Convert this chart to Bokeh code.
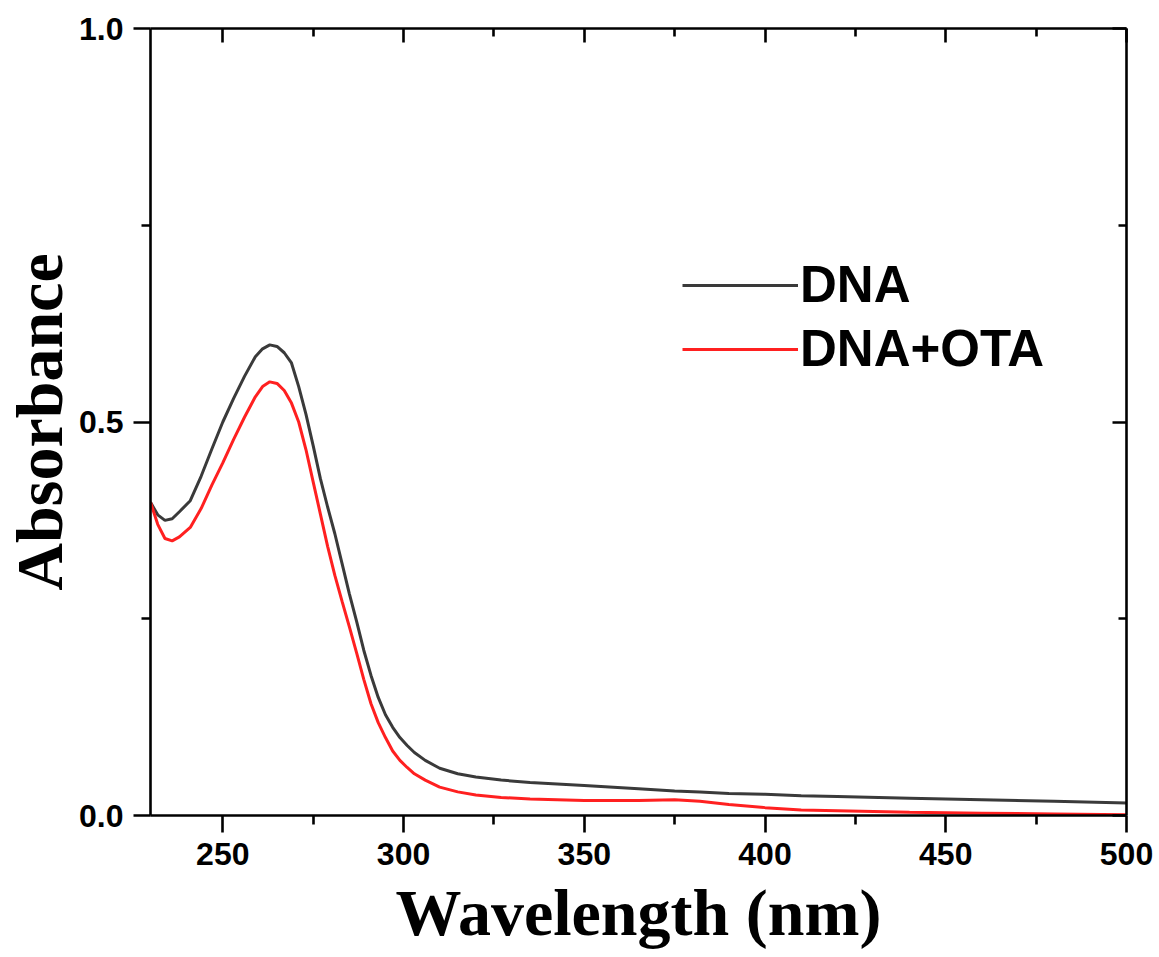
from bokeh.plotting import figure
from bokeh.models import (LinearAxis, Legend, LegendItem, FixedTicker, CustomJSTickFormatter,
                          Range1d, PrintfTickFormatter)
from bokeh.embed import file_html
from bokeh.resources import INLINE

wavelength = [230, 232, 234, 236, 238, 241, 244, 247, 250, 253, 256, 259, 261, 263, 265, 267,
              269, 271, 273, 275, 277, 279, 281, 283, 285, 287, 289, 291, 293, 295, 297, 299,
              301, 303, 306, 310, 315, 320, 327, 335, 350, 365, 375, 382, 390, 400, 410, 420,
              440, 460, 480, 500]
dna = [0.398, 0.382, 0.375, 0.377, 0.386, 0.400, 0.431, 0.466, 0.500, 0.530, 0.558, 0.583,
       0.593, 0.598, 0.596, 0.588, 0.575, 0.545, 0.510, 0.470, 0.428, 0.392, 0.358, 0.320,
       0.282, 0.247, 0.210, 0.178, 0.150, 0.128, 0.112, 0.099, 0.089, 0.080, 0.070, 0.060,
       0.053, 0.049, 0.045, 0.042, 0.038, 0.034, 0.031, 0.030, 0.028, 0.027, 0.025, 0.024,
       0.022, 0.020, 0.018, 0.016]
dna_ota = [0.398, 0.370, 0.352, 0.349, 0.354, 0.366, 0.390, 0.420, 0.448, 0.478, 0.506, 0.532,
           0.545, 0.551, 0.549, 0.540, 0.524, 0.500, 0.465, 0.424, 0.383, 0.342, 0.305, 0.272,
           0.240, 0.207, 0.173, 0.142, 0.118, 0.099, 0.082, 0.070, 0.061, 0.053, 0.045, 0.036,
           0.030, 0.026, 0.023, 0.021, 0.019, 0.019, 0.020, 0.018, 0.014, 0.010, 0.007, 0.006,
           0.004, 0.003, 0.002, 0.001]

x_ticks = [250, 300, 350, 400, 450, 500]
x_minor = [275, 325, 375, 425, 475]
y_ticks = [0.0, 0.5, 1.0]
y_minor = [0.25, 0.75]
series_labels = ["DNA", "DNA+OTA"]

p = figure(width=1159, height=957, output_backend="svg", toolbar_location=None,
           x_range=Range1d(230, 500), y_range=Range1d(0, 1.0),
           min_border_left=150, min_border_right=33, min_border_top=28, min_border_bottom=142,
           x_axis_location=None, y_axis_location=None)
p.outline_line_color = None
p.xgrid.visible = False
p.ygrid.visible = False
p.background_fill_color = "white"
p.border_fill_color = "white"

lw = 2.6

def style(ax, inward=False):
    ax.axis_line_width = lw
    ax.major_tick_line_width = lw
    ax.minor_tick_line_width = lw
    ax.axis_line_color = "black"
    ax.major_tick_line_color = "black"
    ax.minor_tick_line_color = "black"
    if inward:
        ax.major_tick_in = 14
        ax.major_tick_out = 0
        ax.minor_tick_in = 8
        ax.minor_tick_out = 0
        ax.formatter = CustomJSTickFormatter(code="return ''")
    else:
        ax.major_tick_in = 0
        ax.major_tick_out = 17
        ax.minor_tick_in = 0
        ax.minor_tick_out = 9
        ax.major_label_text_font = "Liberation Sans"
        ax.major_label_text_font_style = "bold"
        ax.major_label_text_font_size = "32px"
        ax.major_label_text_color = "black"
        ax.axis_label_text_font = "Liberation Serif"
        ax.axis_label_text_font_style = "bold"
        ax.axis_label_text_font_size = "66px"
        ax.axis_label_text_color = "black"

xb = LinearAxis(ticker=FixedTicker(ticks=x_ticks, minor_ticks=x_minor), axis_label="Wavelength (nm)")
style(xb)
xb.major_label_standoff = 10
xb.axis_label_standoff = 8
yl = LinearAxis(ticker=FixedTicker(ticks=y_ticks, minor_ticks=y_minor), axis_label="Absorbance",
                formatter=PrintfTickFormatter(format="%.1f"))
style(yl)
yl.major_label_standoff = 10
yl.axis_label_standoff = 0
xa = LinearAxis(ticker=FixedTicker(ticks=x_ticks, minor_ticks=x_minor))
style(xa, True)
yr = LinearAxis(ticker=FixedTicker(ticks=y_ticks, minor_ticks=y_minor))
style(yr, True)
p.add_layout(xb, "below")
p.add_layout(yl, "left")
p.add_layout(xa, "above")
p.add_layout(yr, "right")

r1 = p.line(wavelength, dna, line_color="#3a3a3a", line_width=3)
r2 = p.line(wavelength, dna_ota, line_color="#ff2020", line_width=3)

legend = Legend(items=[LegendItem(label=series_labels[0], renderers=[r1]),
                       LegendItem(label=series_labels[1], renderers=[r2])],
                location=(532, 437), glyph_width=116, glyph_height=50, label_height=50,
                label_standoff=2, spacing=5, padding=0, margin=0,
                label_text_font="Liberation Sans", label_text_font_style="bold",
                label_text_font_size="51px", label_text_color="black",
                border_line_alpha=0, background_fill_alpha=0)
p.add_layout(legend)

open("out.html", "w").write(file_html(p, INLINE))
